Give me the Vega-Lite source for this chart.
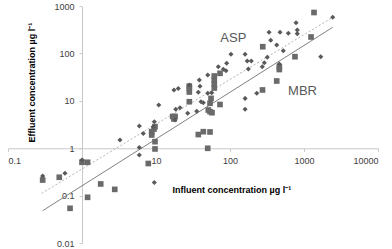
{
  "$schema": "https://vega.github.io/schema/vega-lite/v6.json",
  "width": 370,
  "height": 237,
  "autosize": {"type": "none"},
  "padding": {"left": 8, "top": 6.1, "right": 14, "bottom": 5.9},
  "background": "white",
  "config": {"view": {"stroke": null}, "font": "Liberation Sans"},
  "datasets": {
    "asp": [
      {"x": 0.294, "y": 0.26}, {"x": 0.589, "y": 0.297}, {"x": 1.0, "y": 0.567}, {"x": 3.26, "y": 1.5},
      {"x": 5.95, "y": 2.95}, {"x": 6.74, "y": 2.05}, {"x": 5.95, "y": 1.04}, {"x": 5.95, "y": 0.723},
      {"x": 9.49, "y": 0.19}, {"x": 9.2, "y": 2.86}, {"x": 9.49, "y": 3.64}, {"x": 10.9, "y": 8.2},
      {"x": 17.5, "y": 17}, {"x": 20, "y": 18.3}, {"x": 18.5, "y": 6.65}, {"x": 21.1, "y": 7.19},
      {"x": 18.1, "y": 3.95}, {"x": 26.8, "y": 5.48}, {"x": 35.5, "y": 6.03}, {"x": 28.2, "y": 21.6},
      {"x": 38.5, "y": 27.6}, {"x": 39.3, "y": 20.3}, {"x": 37.3, "y": 15.2}, {"x": 40.6, "y": 9.62},
      {"x": 43.6, "y": 9.16}, {"x": 50, "y": 35.2}, {"x": 50, "y": 14.5}, {"x": 56.6, "y": 14.9},
      {"x": 69.5, "y": 52.7}, {"x": 81.2, "y": 46.4}, {"x": 90.2, "y": 62.1}, {"x": 88.3, "y": 43.4},
      {"x": 103, "y": 96.2}, {"x": 160, "y": 96.2}, {"x": 171, "y": 69.5}, {"x": 194, "y": 69.5},
      {"x": 177, "y": 47.1}, {"x": 291, "y": 64}, {"x": 273, "y": 52.7}, {"x": 319, "y": 83.2},
      {"x": 337, "y": 280}, {"x": 355, "y": 190}, {"x": 428, "y": 151}, {"x": 474, "y": 280},
      {"x": 614, "y": 267}, {"x": 525, "y": 114}, {"x": 464, "y": 60}, {"x": 780, "y": 446},
      {"x": 811, "y": 313}, {"x": 811, "y": 262}, {"x": 2443, "y": 580}, {"x": 1683, "y": 85.6},
      {"x": 230, "y": 14.5}, {"x": 160, "y": 11.3}, {"x": 160, "y": 6.65}
    ],
    "mbr": [
      {"x": 0.294, "y": 0.214}, {"x": 0.493, "y": 0.245}, {"x": 1.0, "y": 0.507}, {"x": 1.19, "y": 0.507},
      {"x": 1.79, "y": 0.177}, {"x": 2.77, "y": 0.136}, {"x": 1.19, "y": 0.0925}, {"x": 0.689, "y": 0.0542},
      {"x": 7.87, "y": 0.478}, {"x": 9.69, "y": 0.97}, {"x": 9.69, "y": 1.38}, {"x": 8.75, "y": 2.24},
      {"x": 8.75, "y": 1.91}, {"x": 9.4, "y": 2.55}, {"x": 9.69, "y": 2.86}, {"x": 16.8, "y": 4.69},
      {"x": 18.1, "y": 4.69}, {"x": 17.5, "y": 4.15}, {"x": 28.2, "y": 20.5}, {"x": 28.2, "y": 18.7},
      {"x": 28.2, "y": 15.4}, {"x": 28.2, "y": 9.62}, {"x": 37.3, "y": 1.95}, {"x": 43.6, "y": 2.24},
      {"x": 53.7, "y": 2.21}, {"x": 50, "y": 1.0}, {"x": 50.9, "y": 6.43}, {"x": 53.7, "y": 5.92},
      {"x": 57.1, "y": 5.64}, {"x": 53.7, "y": 8.9}, {"x": 55.4, "y": 11.3}, {"x": 61.3, "y": 33.5},
      {"x": 61.3, "y": 27.6}, {"x": 61.3, "y": 22.7}, {"x": 61.3, "y": 18.7}, {"x": 73.3, "y": 38.2},
      {"x": 73.3, "y": 8.4}, {"x": 277, "y": 139}, {"x": 464, "y": 52.7}, {"x": 464, "y": 45.9},
      {"x": 428, "y": 26.3}, {"x": 275, "y": 17}, {"x": 755, "y": 85.6}, {"x": 1245, "y": 223},
      {"x": 1365, "y": 733}
    ],
    "fits": [
      {"series": "ASP", "x": 0.285, "y": 0.112}, {"series": "ASP", "x": 2443, "y": 580},
      {"series": "MBR", "x": 0.294, "y": 0.0483}, {"series": "MBR", "x": 2443, "y": 357}
    ],
    "labels": [
      {"label": "ASP", "x": 111, "y": 214},
      {"label": "MBR", "x": 955, "y": 16.3}
    ]
  },
  "encoding": {
    "x": {
      "field": "x", "type": "quantitative",
      "scale": {"type": "log", "domain": [0.1, 10000], "nice": false, "zero": false},
      "axis": {
        "orient": "bottom", "offset": -94.8, "values": [0.1, 1, 10, 100, 1000, 10000], "format": "~g",
        "grid": false, "domainColor": "#c8c8c8", "tickColor": "#c8c8c8", "tickSize": 3,
        "labelFont": "Liberation Sans", "labelFontSize": 9, "labelColor": "#404040", "labelPadding": 5,
        "title": "Influent concentration  µg l⁻¹", "titleFont": "Liberation Sans", "titleFontSize": 9,
        "titleFontWeight": "bold", "titleColor": "#000000", "titleX": 223.4, "titleY": 40.7,
        "titleAlign": "center", "titleBaseline": "middle"
      }
    },
    "y": {
      "field": "y", "type": "quantitative",
      "scale": {"type": "log", "domain": [0.01, 1000], "nice": false, "zero": false},
      "axis": {
        "orient": "left", "offset": -74, "values": [0.01, 0.1, 1, 10, 100, 1000], "format": "~g",
        "grid": false, "domainColor": "#c8c8c8", "tickColor": "#c8c8c8", "tickSize": 3,
        "labelFont": "Liberation Sans", "labelFontSize": 9, "labelColor": "#404040", "labelPadding": 5,
        "title": "Effluent concentration  µg l⁻¹", "titleFont": "Liberation Sans", "titleFontSize": 9,
        "titleFontWeight": "bold", "titleColor": "#000000", "titleX": -50.3, "titleY": 76,
        "titleAlign": "center", "titleBaseline": "middle", "titleAngle": -90
      }
    }
  },
  "layer": [
    {
      "data": {"name": "fits"},
      "transform": [{"filter": "datum.series === 'ASP'"}],
      "mark": {"type": "line", "color": "#b3b3b3", "strokeWidth": 1, "strokeDash": [2, 2]}
    },
    {
      "data": {"name": "fits"},
      "transform": [{"filter": "datum.series === 'MBR'"}],
      "mark": {"type": "line", "color": "#808080", "strokeWidth": 1}
    },
    {
      "data": {"name": "mbr"},
      "mark": {"type": "point", "shape": "square", "filled": true, "size": 32, "color": "#6a6a6a", "opacity": 1}
    },
    {
      "data": {"name": "asp"},
      "mark": {"type": "point", "shape": "diamond", "filled": true, "size": 26, "color": "#595959", "opacity": 1}
    },
    {
      "data": {"name": "labels"},
      "mark": {"type": "text", "font": "Liberation Sans", "fontSize": 13, "color": "#595959", "align": "center", "baseline": "middle"},
      "encoding": {"text": {"field": "label"}}
    }
  ]
}
